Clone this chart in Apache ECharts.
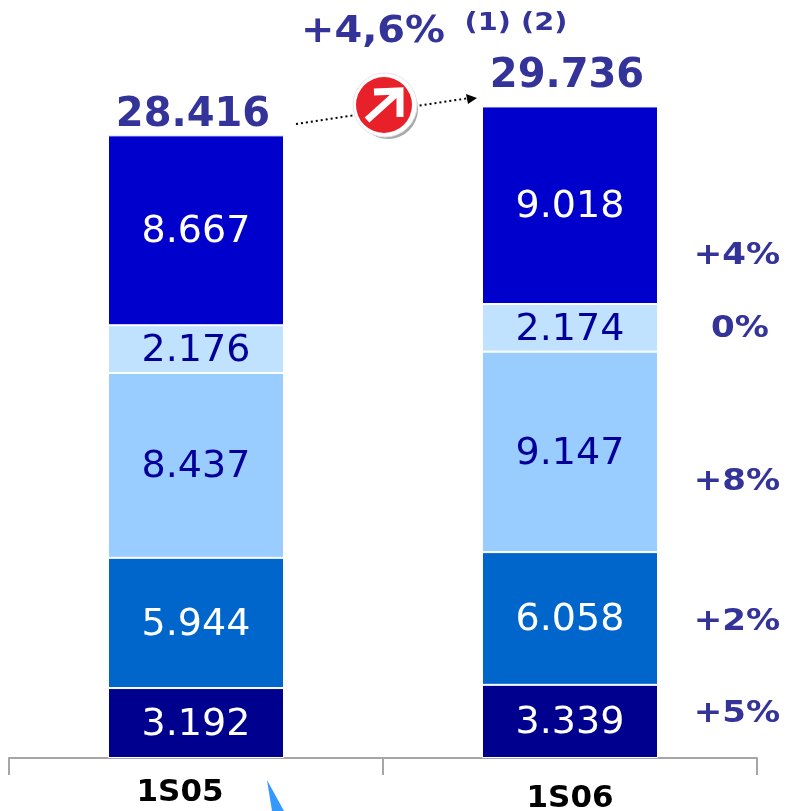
<!DOCTYPE html>
<html><head><meta charset="utf-8">
<style>html,body{margin:0;padding:0;background:#fff}#c{width:786px;height:811px}</style>
<script src="https://cdn.jsdelivr.net/npm/echarts@6/dist/echarts.min.js"></script>
</head><body><div id="c"></div>
<script>
const categories = ['1S05', '1S06'];
const seg1 = [3192, 3339];
const seg2 = [5944, 6058];
const seg3 = [8437, 9147];
const seg4 = [2176, 2174];
const seg5 = [8667, 9018];
const totals = [28416, 29736];
const growthLabels = ['+4%', '0%', '+8%', '+2%', '+5%'];
const headline = '+4,6%';
const notes = '(1) (2)';

const fmt = v => { const s = String(v); return s.slice(0, -3) + '.' + s.slice(-3); };
const navy = '#000099', white = '#ffffff', ink = '#333399';
const font = 'DejaVu Sans';
const barSeries = (data, color, textColor) => ({
  type: 'bar', stack: 'a', data, barWidth: 176, silent: true,
  itemStyle: { color, borderColor: '#fff', borderWidth: 1 },
  label: { show: true, position: 'inside', color: textColor, fontFamily: font, fontSize: 38,
    offset: [0, 2], formatter: p => fmt(p.value) }
});
const totalOffsets = [[-3, 4], [-3, -6]];
const growthY = [256, 329, 482, 622, 714];
const growthX = [737, 740, 737, 737, 737];
const chart = echarts.init(document.getElementById('c'), null, { renderer: 'canvas' });
chart.setOption({
  animation: false,
  backgroundColor: '#fff',
  grid: { left: 9, top: 13, width: 748, height: 745, outerBoundsMode: 'none' },
  xAxis: {
    type: 'category', data: categories,
    axisLine: { lineStyle: { color: '#a6a6a6', width: 2 } },
    axisTick: { show: true, length: 17, lineStyle: { color: '#a6a6a6', width: 2 } },
    axisLabel: { margin: 19, formatter: (v, i) => `{l${i}|${v}}`,
      rich: {
        l0: { fontFamily: font, fontWeight: 'bold', fontSize: 31, color: '#000', padding: [0, 32, 0, 0] },
        l1: { fontFamily: font, fontWeight: 'bold', fontSize: 31, color: '#000', padding: [6, 0, 0, 0] }
      } }
  },
  yAxis: { type: 'value', min: 0, max: 34000, show: false, splitLine: { show: false } },
  series: [
    barSeries(seg1, '#00008f', white),
    barSeries(seg2, '#0066cc', white),
    barSeries(seg3, '#99ccff', navy),
    barSeries(seg4, '#c0e2ff', navy),
    barSeries(seg5, '#0000cc', white),
    { type: 'line', symbol: 'circle', symbolSize: 1, silent: true,
      data: totals.map((value, i) => ({ value, label: { offset: totalOffsets[i] } })),
      itemStyle: { color: 'rgba(0,0,0,0)' }, lineStyle: { width: 0, color: 'rgba(0,0,0,0)' },
      label: { show: true, position: 'top', distance: 3, color: ink, fontFamily: font,
        fontWeight: 'bold', fontSize: 40, formatter: p => fmt(p.value) } }
  ],
  graphic: [
    ...growthLabels.map((t, i) => ({ type: 'text', x: growthX[i], y: growthY[i], scaleX: 1.1,
      style: { text: t, fill: ink, font: `bold 31px "${font}"`, align: 'center', verticalAlign: 'middle' } })),
    { type: 'text', x: 373, y: 32, scaleX: 1.05, originX: 0,
      style: { text: headline, fill: ink, font: `bold 38px "${font}"`, align: 'center', verticalAlign: 'middle' } },
    { type: 'text', x: 516, y: 24, scaleX: 1.2, style: { text: notes, fill: ink, font: `bold 24px "${font}"`, align: 'center', verticalAlign: 'middle' } },
    { type: 'line', shape: { x1: 296, y1: 124, x2: 470, y2: 98 }, style: { stroke: '#000', lineWidth: 2, lineDash: [2, 3] } },
    { type: 'polygon', shape: { points: [[477, 98], [466, 94], [468, 104]] }, style: { fill: '#000' } },
    { type: 'circle', shape: { cx: 388, cy: 109, r: 30 }, style: { fill: '#a8a8a8' } },
    { type: 'circle', shape: { cx: 385, cy: 105, r: 32 }, style: { fill: '#fff', stroke: '#e6e6e6', lineWidth: 1 } },
    { type: 'circle', shape: { cx: 384, cy: 105, r: 28 }, style: { fill: '#e8202a' } },
    { type: 'line', shape: { x1: 367, y1: 120, x2: 397, y2: 93 }, style: { stroke: '#fff', lineWidth: 7 } },
    { type: 'polyline', shape: { points: [[374, 92], [400, 91], [400, 117]] }, style: { stroke: '#fff', lineWidth: 7, fill: null } },
    { type: 'polygon', shape: { points: [[267, 780], [272, 811], [284, 811]] }, style: { fill: '#3399ff' } }
  ]
});
</script></body></html>
